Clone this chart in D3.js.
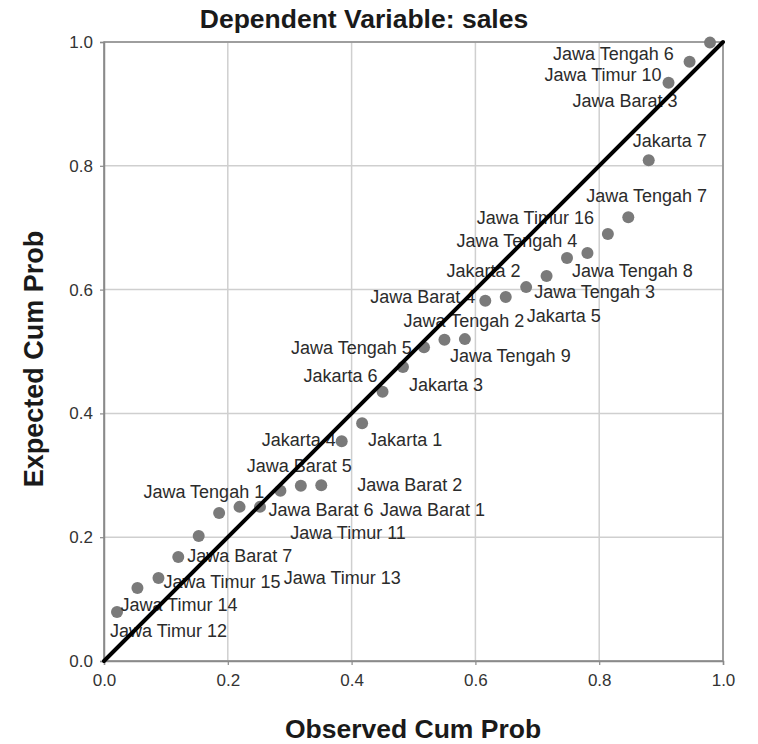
<!DOCTYPE html>
<html>
<head>
<meta charset="utf-8">
<script src="https://cdn.jsdelivr.net/npm/d3@7"></script>
<style>
  html, body { margin: 0; padding: 0; background: #fff; }
  svg { display: block; font-family: Arial, "Liberation Sans", sans-serif; }
</style>
</head>
<body>
<svg id="chart" width="758" height="744"></svg>
<script>
// Normal P-P plot of regression standardized residuals
const caseLabels = [
  "Jawa Timur 12", "Jawa Timur 14", "Jawa Timur 15", "Jawa Barat 7", "Jawa Timur 13",
  "Jawa Timur 11", "Jawa Barat 6", "Jawa Barat 1", "Jawa Tengah 1", "Jawa Barat 5",
  "Jawa Barat 2", "Jakarta 4", "Jakarta 1", "Jakarta 6", "Jakarta 3",
  "Jawa Tengah 5", "Jawa Tengah 2", "Jawa Tengah 9", "Jawa Barat 4", "Jakarta 5",
  "Jawa Tengah 3", "Jakarta 2", "Jawa Tengah 8", "Jawa Tengah 4", "Jawa Timur 16",
  "Jawa Tengah 7", "Jakarta 7", "Jawa Barat 3", "Jawa Timur 10", "Jawa Tengah 6"
];
const observedCumProb = [
  0.021, 0.054, 0.088, 0.120, 0.153, 0.186, 0.219, 0.252, 0.285, 0.318,
  0.351, 0.384, 0.417, 0.450, 0.483, 0.517, 0.550, 0.583, 0.616, 0.649,
  0.682, 0.715, 0.748, 0.781, 0.814, 0.847, 0.880, 0.912, 0.946, 0.979
];
const expectedCumProb = [
  0.079, 0.118, 0.134, 0.168, 0.202, 0.239, 0.249, 0.249, 0.275, 0.283,
  0.284, 0.355, 0.384, 0.435, 0.475, 0.507, 0.519, 0.520, 0.582, 0.588,
  0.604, 0.622, 0.651, 0.659, 0.690, 0.717, 0.809, 0.934, 0.968, 0.999
];
const tickValues = [0, 0.2, 0.4, 0.6, 0.8, 1.0];
const titleText = "Dependent Variable: sales";
const xTitle = "Observed Cum Prob";
const yTitle = "Expected Cum Prob";

// Label placement offsets (px) from each point, to keep case labels apart
const labelOffsets = [
  [-7, 19], [-17, 17], [5, 4], [9, -1], [85, 42],
  [71, 20], [29, 3], [120, 3], [-137, 1], [-54, -20],
  [36, 0], [-80, -1], [6, 17], [-79, -16], [6, 18],
  [-133, 1], [-41, -19], [-15, 17], [-115, -4], [21, 19],
  [8, 5], [-100, -5], [5, 13], [-131, -12], [-131, -16],
  [-42, -21], [-16, -19], [-96, 18], [-145, 13], [-157, 11]
];

const points = caseLabels.map((name, i) => ({
  name, x: observedCumProb[i], y: expectedCumProb[i], off: labelOffsets[i]
}));

const svg = d3.select("#chart");
const plot = { left: 104, right: 723, top: 42, bottom: 661 };

const x = d3.scaleLinear().domain([0, 1]).range([plot.left, plot.right]);
const y = d3.scaleLinear().domain([0, 1]).range([plot.bottom, plot.top]);

// Grid lines
const grid = svg.append("g");
grid.selectAll("line.vx").data(tickValues).join("line")
  .attr("x1", d => x(d)).attr("x2", d => x(d))
  .attr("y1", plot.top).attr("y2", plot.bottom)
  .attr("stroke", "#cfcfcf").attr("stroke-width", 1.5);
grid.selectAll("line.hy").data(tickValues).join("line")
  .attr("y1", d => y(d)).attr("y2", d => y(d))
  .attr("x1", plot.left).attr("x2", plot.right)
  .attr("stroke", "#cfcfcf").attr("stroke-width", 1.5);

// Axes
const xAxis = d3.axisBottom(x).tickValues(tickValues).tickFormat(d3.format(".1f")).tickSize(4).tickPadding(7);
const yAxis = d3.axisLeft(y).tickValues(tickValues).tickFormat(d3.format(".1f")).tickSize(4).tickPadding(7);

const gx = svg.append("g").attr("transform", `translate(0,${plot.bottom})`).call(xAxis);
const gy = svg.append("g").attr("transform", `translate(${plot.left},0)`).call(yAxis);
[gx, gy].forEach(g => {
  g.select(".domain").attr("stroke", "#8a8a8a").attr("stroke-width", 1.5);
  g.selectAll(".tick line").attr("stroke", "#8a8a8a").attr("stroke-width", 1.2);
  g.selectAll(".tick text").attr("fill", "#333").style("font-size", "17px")
    .style("font-family", "Arial, 'Liberation Sans', sans-serif");
});
gx.selectAll(".tick text").attr("dy", "0.85em");

// Frame around the plot area
svg.append("rect")
  .attr("x", plot.left).attr("y", plot.top)
  .attr("width", plot.right - plot.left).attr("height", plot.bottom - plot.top)
  .attr("fill", "none").attr("stroke", "#8a8a8a").attr("stroke-width", 1.5);

// Points
svg.append("g").selectAll("circle").data(points).join("circle")
  .attr("cx", d => x(d.x)).attr("cy", d => y(d.y)).attr("r", 6)
  .attr("fill", "#7a7a7a");

// Case labels
svg.append("g").selectAll("text").data(points).join("text")
  .attr("x", d => x(d.x) + d.off[0])
  .attr("y", d => y(d.y) + d.off[1])
  .attr("dominant-baseline", "central")
  .attr("fill", "#2b2b2b")
  .style("font-size", "18px")
  .text(d => d.name);

// Reference diagonal
svg.append("line")
  .attr("x1", x(0)).attr("y1", y(0)).attr("x2", x(1)).attr("y2", y(1))
  .attr("stroke", "#000").attr("stroke-width", 4).attr("stroke-linecap", "round");

// Titles
svg.append("text")
  .attr("x", 364).attr("y", 19).attr("text-anchor", "middle").attr("dominant-baseline", "central")
  .attr("fill", "#1a1a1a").style("font-size", "26.5px").style("font-weight", "bold")
  .text(titleText);
svg.append("text")
  .attr("x", 413).attr("y", 729).attr("text-anchor", "middle").attr("dominant-baseline", "central")
  .attr("fill", "#1a1a1a").style("font-size", "26.5px").style("font-weight", "bold")
  .text(xTitle);
svg.append("text")
  .attr("transform", "translate(34,359) rotate(-90)")
  .attr("text-anchor", "middle").attr("dominant-baseline", "central")
  .attr("fill", "#1a1a1a").style("font-size", "27px").style("font-weight", "bold")
  .text(yTitle);
</script>
</body>
</html>
